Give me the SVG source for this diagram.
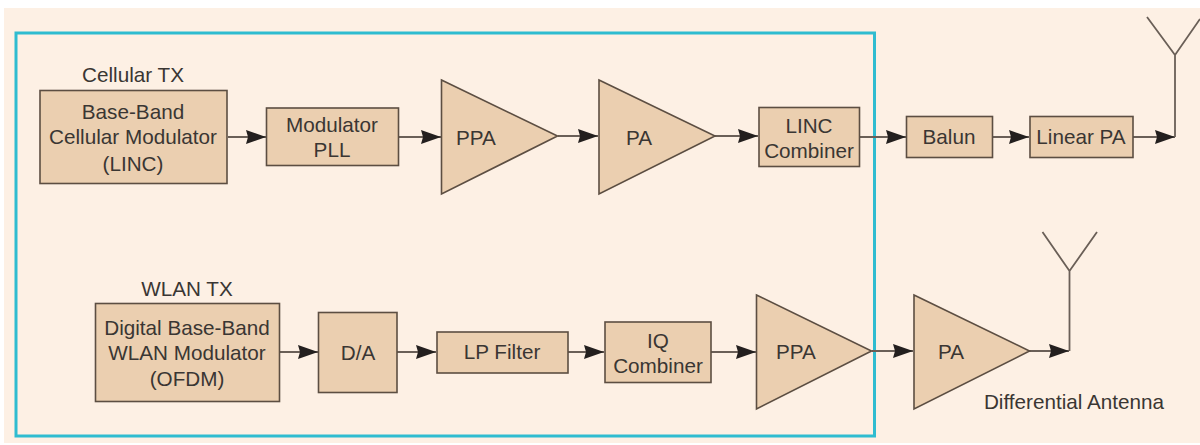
<svg xmlns="http://www.w3.org/2000/svg" width="1200" height="445" viewBox="0 0 1200 445">
<style>
.n{fill:#ebcfb0;stroke:#5c4e42;stroke-width:1.6}
text{font-family:"Liberation Sans",Arial,sans-serif;font-size:20.7px;fill:#3a3633;text-anchor:middle}
.c{fill:none;stroke:#6a5f57;stroke-width:2}
.a{fill:none;stroke:#6a5f57;stroke-width:1.8}
</style>
<defs>
<marker id="h" markerUnits="userSpaceOnUse" markerWidth="22" markerHeight="16" refX="20" refY="7" orient="auto"><path d="M0 0L20 7L0 14L2 7Z" fill="#231f1e"/></marker>
</defs>
<rect width="1200" height="445" fill="#fff"/>
<rect x="4" y="8" width="1196" height="435" fill="#fdf0e4"/>
<rect id="frame" x="16" y="33" width="858.500" height="403" fill="none" stroke="#2fbcd0" stroke-width="3"/>
<g id="connectors">
<path class="c" marker-end="url(#h)" d="M228 137H266"/>
<path class="c" marker-end="url(#h)" d="M399 137H441"/>
<path class="c" marker-end="url(#h)" d="M558 136H598"/>
<path class="c" marker-end="url(#h)" d="M715 136H758"/>
<path class="c" marker-end="url(#h)" d="M860 137H906"/>
<path class="c" marker-end="url(#h)" d="M993 137H1029"/>
<path class="c" marker-end="url(#h)" d="M1133 137H1175"/>
<path class="c" marker-end="url(#h)" d="M280 352H318"/>
<path class="c" marker-end="url(#h)" d="M397 352H436"/>
<path class="c" marker-end="url(#h)" d="M568 352H604"/>
<path class="c" marker-end="url(#h)" d="M711 352H756"/>
<path class="c" marker-end="url(#h)" d="M872 351H913"/>
<path class="c" marker-end="url(#h)" d="M1029 351H1069"/>
</g>
<g id="antenna-cellular"><path class="a" d="M1175 137V55M1147 17L1175 55L1200 19"/></g>
<g id="antenna-wlan"><path class="a" d="M1069.500 351V271M1042.500 232L1069.500 271L1097 232"/></g>
<text id="label-cellular" x="133" y="82">Cellular TX</text>
<g id="cell-mod"><rect class="n" x="40" y="90.500" width="187" height="93"/><text x="133" y="119">Base-Band</text><text x="133" y="144">Cellular Modulator</text><text x="133" y="171">(LINC)</text></g>
<g id="mod-pll"><rect class="n" x="266.500" y="108" width="132" height="57.500"/><text x="332" y="132">Modulator</text><text x="332" y="157">PLL</text></g>
<g id="ppa1"><path class="n" d="M441.500 80L557.500 136L441.500 194Z"/><text x="476" y="145">PPA</text></g>
<g id="pa1"><path class="n" d="M599 80L715 136L599 194Z"/><text x="639" y="145">PA</text></g>
<g id="linc"><rect class="n" x="759" y="107.500" width="100.500" height="59"/><text x="809" y="133">LINC</text><text x="809" y="158">Combiner</text></g>
<g id="balun"><rect class="n" x="906.500" y="116.500" width="86" height="41"/><text x="949" y="144">Balun</text></g>
<g id="linear-pa"><rect class="n" x="1030" y="116.500" width="103" height="41"/><text x="1081" y="144">Linear PA</text></g>
<text id="label-wlan" x="187" y="296">WLAN TX</text>
<g id="wlan-mod"><rect class="n" x="95.500" y="303.500" width="184" height="98"/><text x="187" y="335">Digital Base-Band</text><text x="187" y="360">WLAN Modulator</text><text x="187" y="386">(OFDM)</text></g>
<g id="da"><rect class="n" x="318.500" y="312.500" width="78.500" height="80"/><text x="358" y="360">D/A</text></g>
<g id="lp"><rect class="n" x="437" y="332" width="131" height="41"/><text x="502" y="359">LP Filter</text></g>
<g id="iq"><rect class="n" x="605" y="322" width="106" height="60.500"/><text x="658" y="348">IQ</text><text x="658" y="373">Combiner</text></g>
<g id="ppa2"><path class="n" d="M756.500 295L871.500 351L756.500 409Z"/><text x="796" y="359">PPA</text></g>
<g id="pa2"><path class="n" d="M914 295L1029.500 351L914 409Z"/><text x="951" y="359">PA</text></g>
<text id="label-antenna" x="1074" y="409">Differential Antenna</text>
</svg>
